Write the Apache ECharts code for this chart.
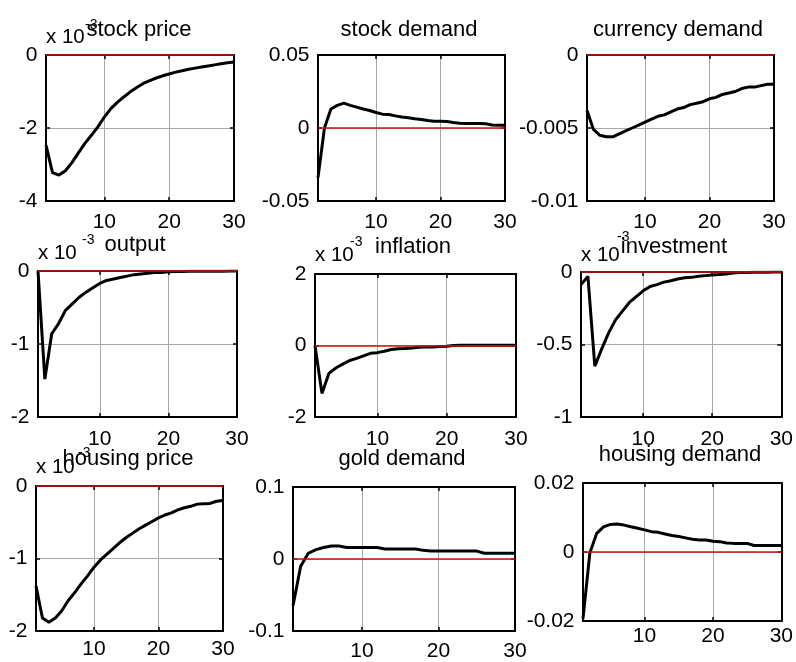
<!DOCTYPE html>
<html>
<head>
<meta charset="utf-8">
<script src="https://cdn.jsdelivr.net/npm/echarts@6/dist/echarts.min.js"></script>
<style>
html,body{margin:0;padding:0;background:#fff;}
#chart{width:796px;height:662px;}
</style>
</head>
<body>
<div id="chart"></div>
<script>
// ---------------- DATA ----------------
const periods = [1,2,3,4,5,6,7,8,9,10,11,12,13,14,15,16,17,18,19,20,21,22,23,24,25,26,27,28,29,30];

const panelTitles = ['stock price','stock demand','currency demand','output','inflation','investment','housing price','gold demand','housing demand'];

// values as read on each panel's y axis (panels with "x 10^-3" are in units of 1e-3)
const stockPriceE3 = [-2.47,-3.22,-3.29,-3.17,-2.95,-2.68,-2.42,-2.20,-1.97,-1.70,-1.47,-1.30,-1.15,-1.01,-0.89,-0.78,-0.70,-0.63,-0.57,-0.52,-0.47,-0.43,-0.39,-0.36,-0.33,-0.30,-0.27,-0.24,-0.21,-0.19];
const stockDemand = [-0.034,0.0,0.013,0.0155,0.017,0.0155,0.0143,0.013,0.012,0.0106,0.0095,0.0092,0.0083,0.0075,0.007,0.0063,0.0058,0.0051,0.0047,0.0046,0.0044,0.0038,0.0033,0.003,0.003,0.003,0.0029,0.002,0.0018,0.0018];
const currencyDemand = [-0.0038,-0.0051,-0.0055,-0.0056,-0.0056,-0.0054,-0.0052,-0.0050,-0.0048,-0.0046,-0.0044,-0.0042,-0.0041,-0.0039,-0.0037,-0.0036,-0.0034,-0.0033,-0.0032,-0.0030,-0.0029,-0.0027,-0.0026,-0.0025,-0.0023,-0.0022,-0.0022,-0.0021,-0.0020,-0.0020];
const outputE3 = [0,-1.48,-0.86,-0.72,-0.54,-0.45,-0.36,-0.29,-0.23,-0.17,-0.13,-0.11,-0.09,-0.07,-0.05,-0.04,-0.03,-0.02,-0.02,-0.01,-0.008,-0.006,-0.005,-0.004,-0.003,-0.003,-0.002,-0.002,-0.001,-0.001];
const inflationE3 = [0,-1.34,-0.78,-0.63,-0.52,-0.42,-0.36,-0.29,-0.22,-0.20,-0.16,-0.11,-0.09,-0.085,-0.07,-0.05,-0.04,-0.04,-0.03,-0.02,0.0,0.01,0.01,0.01,0.01,0.01,0.01,0.01,0.01,0.01];
const investmentE3 = [-0.087,-0.03,-0.65,-0.53,-0.42,-0.33,-0.27,-0.21,-0.17,-0.13,-0.10,-0.087,-0.07,-0.06,-0.048,-0.04,-0.037,-0.03,-0.025,-0.02,-0.018,-0.014,-0.007,-0.004,-0.003,-0.002,-0.001,-0.001,0,0];
const housingPriceE3 = [-1.38,-1.82,-1.88,-1.82,-1.72,-1.58,-1.47,-1.35,-1.24,-1.12,-1.02,-0.94,-0.86,-0.78,-0.71,-0.65,-0.59,-0.54,-0.49,-0.44,-0.40,-0.37,-0.33,-0.30,-0.28,-0.25,-0.245,-0.24,-0.21,-0.20];
const goldDemand = [-0.065,-0.01,0.008,0.013,0.016,0.018,0.018,0.016,0.016,0.016,0.016,0.016,0.014,0.014,0.014,0.014,0.014,0.012,0.011,0.011,0.011,0.011,0.011,0.011,0.011,0.008,0.008,0.008,0.008,0.008];
const housingDemand = [-0.0193,-0.0003,0.0054,0.0073,0.008,0.0081,0.0078,0.0073,0.0069,0.0064,0.0059,0.0057,0.0052,0.0048,0.0045,0.0041,0.0037,0.0035,0.0035,0.0031,0.003,0.0026,0.0025,0.0025,0.0025,0.0019,0.0019,0.0019,0.0019,0.0019];

const seriesValues = [stockPriceE3, stockDemand, currencyDemand, outputE3, inflationE3, investmentE3, housingPriceE3, goldDemand, housingDemand];

// axis limits and tick steps
const xLimits = [1, 30];
const xTickValues = [10, 20, 30];
const yLimits = [[-4,0],[-0.05,0.05],[-0.01,0],[-2,0],[-2,2],[-1,0],[-2,0],[-0.1,0.1],[-0.02,0.02]];
const yTickStep = [2, 0.05, 0.005, 1, 2, 0.5, 1, 0.1, 0.02];
const hasExponent = [true,false,false,true,true,true,true,false,false];
const exponentText = ['x 10', '-3'];

// ---------------- LAYOUT (pixels) ----------------
// [left, top, right, bottom]
const boxes = [
  [46,55,234,201],[318,55,505,201],[587,55,774,201],
  [38,271,237,417],[315,274,516,417],[581,272,783,417],
  [36,486,223,631],[293,487,515,632],[583,483,783,621]
];
const xLabelMargin = [11,11,11,12,12,12,8,10,5];
const titlePos = [[139,30],[409,30],[678,30],[135,245],[413,247],[674,247],[128,459],[402,459],[680,455]];
const expPos = [[46,37,85,25],[0,0,0,0],[0,0,0,0],[38,253,82,240],[315,255,350,242],[581,255,617,237],[36,467,78,453],[0,0,0,0],[0,0,0,0]];

const FONT = '"Liberation Sans", Arial, Helvetica, sans-serif';
const TICK_FS = 21, TITLE_FS = 22, EXP_FS = 20.5, SUP_FS = 14;

function fmt(v){
  const r = Number(Number(v).toPrecision(6));
  return r === 0 ? '0' : String(r);
}

const grids = [], xAxes = [], yAxes = [], series = [], graphics = [];
boxes.forEach((b, i) => {
  grids.push({left:b[0], top:b[1], width:b[2]-b[0], height:b[3]-b[1], show:false, containLabel:false});
  const axisLine = {show:true, onZero:false, lineStyle:{color:'#000', width:2}};
  const tick = {show:true, inside:true, length:4, lineStyle:{color:'#000', width:1.5}};
  // bottom x
  xAxes.push({
    type:'value', gridIndex:i, position:'bottom', min:xLimits[0], max:xLimits[1],
    axisLine:axisLine,
    axisTick:Object.assign({customValues:xTickValues}, tick),
    axisLabel:{customValues:xTickValues, margin:xLabelMargin[i], color:'#000', fontSize:TICK_FS, fontFamily:FONT, showMinLabel:true, showMaxLabel:true},
    splitLine:{show:true, lineStyle:{color:'#a8a8a8', width:1}}
  });
  // top x (box edge)
  xAxes.push({
    type:'value', gridIndex:i, position:'top', min:xLimits[0], max:xLimits[1],
    axisLine:axisLine,
    axisTick:Object.assign({customValues:xTickValues}, tick),
    axisLabel:{show:false, customValues:xTickValues},
    splitLine:{show:false}
  });
  const yl = yLimits[i];
  yAxes.push({
    type:'value', gridIndex:i, position:'left', min:yl[0], max:yl[1], interval:yTickStep[i],
    axisLine:axisLine, axisTick:tick,
    axisLabel:{margin:8.5, color:'#000', fontSize:TICK_FS, fontFamily:FONT, formatter:fmt},
    splitLine:{show:true, lineStyle:{color:'#a8a8a8', width:1}}
  });
  yAxes.push({
    type:'value', gridIndex:i, position:'right', min:yl[0], max:yl[1], interval:yTickStep[i],
    axisLine:axisLine, axisTick:tick,
    axisLabel:{show:false}, splitLine:{show:false}
  });
  series.push({
    type:'line', xAxisIndex:2*i, yAxisIndex:2*i,
    data: periods.map((p, k) => [p, seriesValues[i][k]]),
    showSymbol:false, symbol:'none', smooth:false,
    lineStyle:{color:'#000', width:3},
    z:3,
    markLine:{
      silent:true, symbol:['none','none'], label:{show:false},
      lineStyle:{color:'#d01515', width:1.5, type:'solid'},
      data:[{yAxis:0}], z:4
    }
  });
  const tp = titlePos[i];
  graphics.push({type:'text', x:tp[0], y:tp[1], z:10, style:{text:panelTitles[i], fill:'#000', fontSize:TITLE_FS, fontFamily:FONT, align:'center', verticalAlign:'middle'}});
  if (hasExponent[i]) {
    const e = expPos[i];
    graphics.push({type:'text', x:e[0], y:e[1], z:10, style:{text:exponentText[0], fill:'#000', fontSize:EXP_FS, fontFamily:FONT, align:'left', verticalAlign:'middle'}});
    graphics.push({type:'text', x:e[2], y:e[3], z:10, style:{text:exponentText[1], fill:'#000', fontSize:SUP_FS, fontFamily:FONT, align:'left', verticalAlign:'middle'}});
  }
});

const chart = echarts.init(document.getElementById('chart'), null, {renderer:'canvas'});
chart.setOption({
  animation:false,
  backgroundColor:'#fff',
  grid:grids, xAxis:xAxes, yAxis:yAxes, series:series, graphic:graphics
});
</script>
</body>
</html>
